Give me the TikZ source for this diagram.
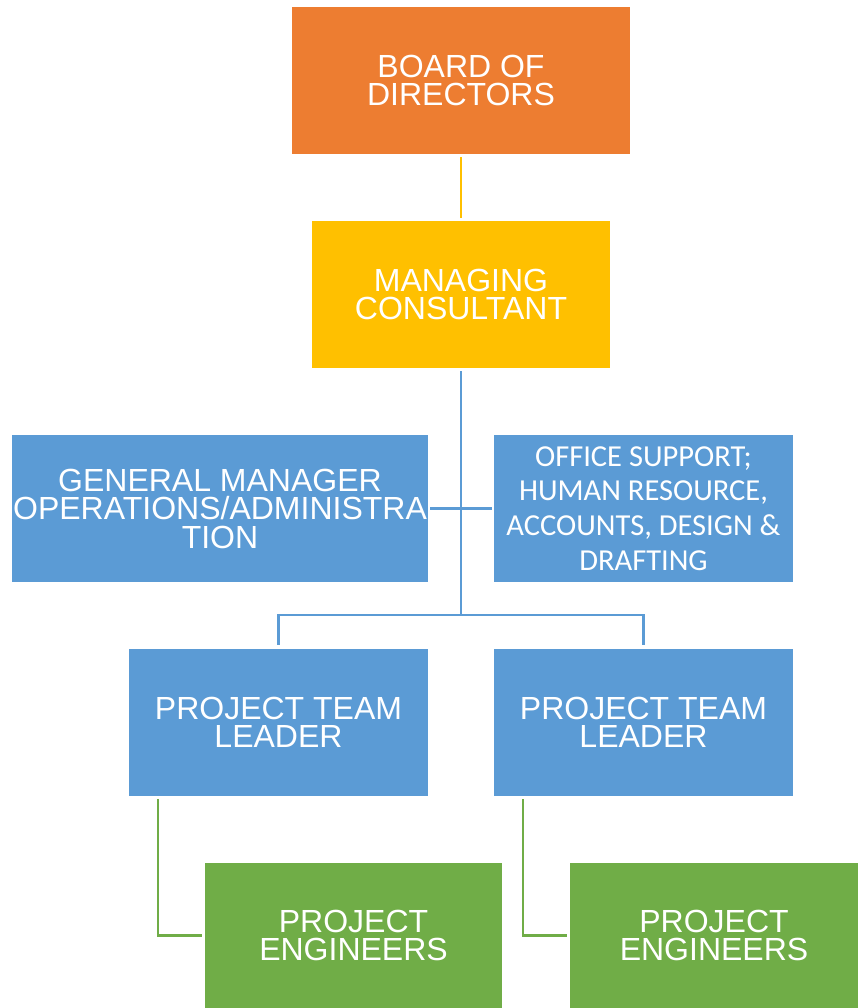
\documentclass[tikz,border=0pt]{standalone}
\usepackage{fontspec}
\setmainfont{Liberation Sans}
\newfontfamily\supportfont{Carlito}
\usetikzlibrary{calc}
\definecolor{boardorange}{HTML}{ED7D31}
\definecolor{mcgold}{HTML}{FFC000}
\definecolor{staffblue}{HTML}{5B9BD5}
\definecolor{engreen}{HTML}{70AD47}

\begin{document}
\begin{tikzpicture}[x=1pt,y=1pt,yscale=-1,
  box/.style={minimum width=299pt,minimum height=147pt,inner sep=0pt,text=white,align=center,font=\fontsize{32}{28.5}\selectfont},
  link/.style={line width=2.5pt}]
\useasboundingbox (0,0) rectangle (858,1008);

% Boxes
\node [box,fill=boardorange,minimum width=338pt] (board) at (461,80.5) {BOARD OF\\DIRECTORS};
\node [box,fill=mcgold,minimum width=298pt] (mc) at (461,294.5) {MANAGING\\CONSULTANT};
\node [box,fill=staffblue,minimum width=416pt] (gm) at (220,508.5) {GENERAL MANAGER\\OPERATIONS/ADMINISTRA\\TION};
\node [box,fill=staffblue,font=\supportfont\fontsize{30.5}{34.7}\selectfont] (office) at (643.5,508.5) {OFFICE SUPPORT;\\HUMAN RESOURCE,\\ACCOUNTS, DESIGN \&\\DRAFTING};
\node [box,fill=staffblue] (ptl1) at (278.5,722.5) {PROJECT TEAM\\LEADER};
\node [box,fill=staffblue] (ptl2) at (643.5,722.5) {PROJECT TEAM\\LEADER};
\node [box,fill=engreen,minimum width=297pt,minimum height=145pt] (pe1) at (353.5,935.5) {PROJECT\\ENGINEERS};
\node [box,fill=engreen,minimum width=288pt,minimum height=145pt] (pe2) at (714,935.5) {PROJECT\\ENGINEERS};

% Connectors
\coordinate (split) at (461,615);
\draw [link,mcgold,shorten <=3pt,shorten >=3pt] (board.south) -- (mc.south |- mc.north);
\draw [link,staffblue,shorten <=3pt] (mc.south) -- (split);
\draw [link,staffblue,shorten <=2pt,shorten >=2pt] (gm.east) -- (office.west);
\draw [link,staffblue,shorten <=4pt,shorten >=4pt] (ptl1.north) |- (split) -| (ptl2.north);
\draw [link,engreen,shorten <=3pt,shorten >=3pt] ($(ptl1.south west)+(29,0)$) |- (pe1.west);
\draw [link,engreen,shorten <=3pt,shorten >=3pt] ($(ptl2.south west)+(29,0)$) |- (pe2.west);
\end{tikzpicture}
\end{document}
